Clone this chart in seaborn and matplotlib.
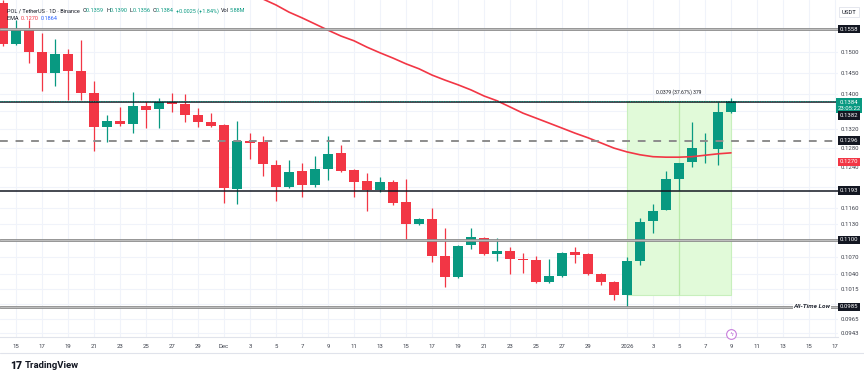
import matplotlib as mpl
import matplotlib.pyplot as plt
import matplotlib.dates as mdates
import numpy as np
import pandas as pd
import seaborn as sns
from matplotlib.lines import Line2D
from matplotlib.transforms import Bbox, TransformedBbox, blended_transform_factory

mpl.use("Agg")
sns.set_theme(style="white")
plt.rcParams["font.family"] = ["Roboto", "DejaVu Sans"]

# daily candles, Nov 14 2025 .. Jan 9 2026
dates = pd.date_range("2025-11-14", "2026-01-09", freq="D")
opens = [0.1626, 0.1520, 0.1558, 0.1500, 0.1449, 0.1495, 0.1454, 0.1402, 0.1325, 0.1339,
         0.1332, 0.1372, 0.1365, 0.1381, 0.1377, 0.1352, 0.1336, 0.1330, 0.1197, 0.1295,
         0.1293, 0.1245, 0.1200, 0.1233, 0.1204, 0.1237, 0.1270, 0.1235, 0.1212, 0.1195,
         0.1210, 0.1171, 0.1129, 0.1139, 0.1071, 0.1035, 0.1091, 0.1104, 0.1075, 0.1080,
         0.1066, 0.1064, 0.1026, 0.1037, 0.1078, 0.1075, 0.1040, 0.1026, 0.1005, 0.1062,
         0.1135, 0.1156, 0.1216, 0.1251, 0.1280, 0.1278, 0.1359]
highs = [0.1634, 0.1581, 0.1581, 0.1548, 0.1533, 0.1507, 0.1530, 0.1430, 0.1352, 0.1370,
         0.1404, 0.1384, 0.1390, 0.1402, 0.1400, 0.1368, 0.1356, 0.1332, 0.1339, 0.1312,
         0.1306, 0.1255, 0.1255, 0.1249, 0.1263, 0.1306, 0.1287, 0.1236, 0.1229, 0.1221,
         0.1214, 0.1216, 0.1141, 0.1160, 0.1122, 0.1091, 0.1122, 0.1105, 0.1104, 0.1087,
         0.1077, 0.1071, 0.1066, 0.1078, 0.1087, 0.1077, 0.1042, 0.1028, 0.1070, 0.1141,
         0.1167, 0.1233, 0.1249, 0.1336, 0.1312, 0.1381, 0.1390]
lows = [0.1515, 0.1517, 0.1473, 0.1407, 0.1418, 0.1386, 0.1386, 0.1274, 0.1293, 0.1328,
        0.1312, 0.1323, 0.1323, 0.1359, 0.1336, 0.1325, 0.1325, 0.1169, 0.1167, 0.1257,
        0.1223, 0.1173, 0.1198, 0.1181, 0.1200, 0.1214, 0.1231, 0.1181, 0.1154, 0.1191,
        0.1165, 0.1100, 0.1128, 0.1061, 0.1018, 0.1033, 0.1084, 0.1073, 0.1062, 0.1040,
        0.1042, 0.1025, 0.1025, 0.1035, 0.1059, 0.1038, 0.1021, 0.0996, 0.0985, 0.1056,
        0.1113, 0.1155, 0.1195, 0.1241, 0.1249, 0.1245, 0.1356]
closes = [0.1520, 0.1558, 0.1500, 0.1449, 0.1495, 0.1454, 0.1402, 0.1325, 0.1339, 0.1332,
          0.1372, 0.1363, 0.1381, 0.1377, 0.1352, 0.1336, 0.1328, 0.1198, 0.1295, 0.1291,
          0.1247, 0.1200, 0.1231, 0.1204, 0.1237, 0.1268, 0.1233, 0.1210, 0.1195, 0.1210,
          0.1169, 0.1129, 0.1139, 0.1071, 0.1035, 0.1089, 0.1105, 0.1075, 0.1080, 0.1066,
          0.1064, 0.1026, 0.1037, 0.1077, 0.1073, 0.1040, 0.1026, 0.1005, 0.1062, 0.1133,
          0.1154, 0.1216, 0.1249, 0.1280, 0.1281, 0.1359, 0.1384]

ema_dates = pd.date_range("2025-12-03", "2026-01-09", freq="D")
ema = [0.1656, 0.1637, 0.1621, 0.1602, 0.1587, 0.1571, 0.1555, 0.1540, 0.1528, 0.1512,
       0.1498, 0.1485, 0.1471, 0.1459, 0.1444, 0.1432, 0.1421, 0.1409, 0.1395, 0.1384,
       0.1370, 0.1356, 0.1345, 0.1334, 0.1323, 0.1312, 0.1302, 0.1291, 0.1280, 0.1272,
       0.1266, 0.1262, 0.1261, 0.1261, 0.1262, 0.1265, 0.1268, 0.1270]

# horizontal levels
gray_levels = [0.1558, 0.1100, 0.0985]
black_levels = [0.1382, 0.1193]
dashed_level = 0.1296
last_price = 0.1384

range_start, range_end = "2026-01-01", "2026-01-09"
range_low, range_high = 0.1005, 0.1384
range_text = "0.0379 (37.67%) 379"

# price scale: gridlines at every tick, labels only where not covered by a tag
y_ticks = [0.1500, 0.1450, 0.1400, 0.1360, 0.1320, 0.1280, 0.1240, 0.1200, 0.1160,
           0.1130, 0.1100, 0.1070, 0.1040, 0.1015, 0.0990, 0.0965, 0.0943]
y_hidden = [0.1360, 0.1200, 0.1100, 0.0990]
x_tick_dates = ["2025-11-15", "2025-11-17", "2025-11-19", "2025-11-21", "2025-11-23",
                "2025-11-25", "2025-11-27", "2025-11-29", "2025-12-01", "2025-12-03",
                "2025-12-05", "2025-12-07", "2025-12-09", "2025-12-11", "2025-12-13",
                "2025-12-15", "2025-12-17", "2025-12-19", "2025-12-21", "2025-12-23",
                "2025-12-25", "2025-12-27", "2025-12-29", "2026-01-01", "2026-01-03",
                "2026-01-05", "2026-01-07", "2026-01-09", "2026-01-11", "2026-01-13",
                "2026-01-15", "2026-01-17"]
x_tick_labels = ["15", "17", "19", "21", "23", "25", "27", "29", "Dec", "3", "5", "7", "9",
                 "11", "13", "15", "17", "19", "21", "23", "25", "27", "29", "2026", "3",
                 "5", "7", "9", "11", "13", "15", "17"]

GREEN = "#089981"
RED = "#f23645"
DARK = "#131722"

W, H = 864, 377
fig = plt.figure(figsize=(W / 100, H / 100), dpi=100)
ax = fig.add_axes([0, 1 - 337 / H, 838 / W, 337 / H])

x = mdates.date2num(dates)
o = np.array(opens)
c = np.array(closes)
cols = [GREEN if cc >= oo else RED for oo, cc in zip(o, c)]

ax.vlines(x, lows, highs, colors=cols, lw=0.9, zorder=2)
bottom = np.minimum(o, c)
height = np.maximum(np.abs(c - o), 0.00008)
ax.bar(x, height, bottom=bottom, width=0.75, color=cols, linewidth=0, zorder=2.5)

ema_df = pd.DataFrame({"x": mdates.date2num(ema_dates), "ema": ema})
sns.lineplot(data=ema_df, x="x", y="ema", color=RED, lw=1.2, ax=ax, zorder=3)

# measured range box
rx0 = mdates.date2num(pd.Timestamp(range_start))
rx1 = mdates.date2num(pd.Timestamp(range_end))
ax.fill_between([rx0, rx1], range_low, range_high, color="#e1fad9", lw=0.8,
                edgecolor="#c8efbd", zorder=1)
ax.vlines((rx0 + rx1) / 2, range_low, range_high, color="#b9eaa9", lw=0.9, zorder=1.2)
ax.annotate(range_text, xy=((rx0 + rx1) / 2, range_high), xytext=(0, 6),
            textcoords="offset points", ha="center", va="center", fontsize=3.6,
            color=DARK, zorder=6)

for lv in gray_levels:
    ax.axhline(lv, color="#8c8c8c", lw=2.0, zorder=3.2)
    ax.axhline(lv, color="#c8c8c8", lw=0.6, zorder=3.3)
for lv in black_levels:
    ax.axhline(lv, color=DARK, lw=1.1, zorder=3.2)
ax.axhline(dashed_level, color="#8c8c8c", lw=1.4, dashes=(4, 4), zorder=3.2)
ax.axhline(last_price, color=GREEN, lw=0.7, ls=(0, (1, 1.5)), zorder=3.4)

ax.set_yscale("log")
ax.set_ylim(0.09372, 0.16344)
x0 = mdates.date2num(pd.Timestamp("2025-11-15"))
ax.set_xlim(x0 - 1.23, x0 + 63.23)
ax.set_xlabel("")
ax.set_ylabel("")

ax.yaxis.tick_right()
ax.yaxis.set_minor_locator(mpl.ticker.NullLocator())
ax.set_yticks(y_ticks, labels=["" if t in y_hidden else f"{t:.4f}" for t in y_ticks])
ax.set_xticks(mdates.date2num(pd.to_datetime(x_tick_dates)), labels=x_tick_labels)
ax.tick_params(axis="y", length=0, pad=2, labelsize=4.3, labelcolor="#3b3f4a")
ax.tick_params(axis="x", length=0, pad=5, labelsize=4.3, labelcolor="#3b3f4a")
ax.grid(True, color="#f0f3fa", lw=0.8, zorder=0)
for s in ["top", "left", "right"]:
    ax.spines[s].set_visible(False)
ax.spines["bottom"].set_color("#e0e3eb")
ax.spines["bottom"].set_linewidth(0.8)

clip = TransformedBbox(Bbox([[0, 0], [838 / W, 1]]), fig.transFigure)
last_lbl = ax.get_xticklabels()[-1]
last_lbl.set_clip_on(True)
last_lbl.set_clip_box(clip)

# price tags on the scale
ytr = ax.get_yaxis_transform()
tag_x = 849 / 838


def price_tag(val, text, fc, dy=0.0):
    ax.annotate(text, xy=(tag_x, val), xycoords=ytr, xytext=(0, dy),
                textcoords="offset points", ha="center", va="center",
                fontsize=4.3, color="white", linespacing=1.3,
                bbox=dict(boxstyle="square,pad=0.3", fc=fc, ec="none"),
                annotation_clip=False, zorder=10)


price_tag(0.1558, "0.1558", DARK)
price_tag(0.1384, "0.1384\n23:05:22", GREEN, dy=-3.5)
price_tag(0.1382, "0.1382", DARK, dy=-10)
price_tag(0.1296, "0.1296", DARK)
price_tag(0.1270, "0.1270", RED, dy=-6.5)
price_tag(0.1193, "0.1193", DARK)
price_tag(0.1100, "0.1100", DARK)
price_tag(0.0985, "0.0985", DARK)

ax.text(812 / 838, 0.0985, "All-Time Low", transform=ytr, ha="center", va="center",
        fontsize=4.6, fontweight="bold", style="italic", color="#2a2e39",
        bbox=dict(boxstyle="square,pad=0.15", fc="white", ec="none"), zorder=6)

# lightning marker on the time scale
btr = blended_transform_factory(ax.transData, ax.transAxes)
ax.plot([rx1], [0.008], transform=btr, marker="o", ms=7, mfc="white", mec="#c77ddb",
        mew=0.8, clip_on=False, zorder=8)
ax.text(rx1, 0.008, "ϟ", transform=btr, ha="center", va="center", fontsize=4.5,
        color="#b15bd0", zorder=9, clip_on=False)

fig.text(849 / W, 1 - 12 / H, "USDT", fontsize=4.3, ha="center", va="center", color=DARK,
         bbox=dict(boxstyle="square,pad=0.5", fc="white", ec="#e0e3eb", lw=0.6))


def chain(parts, x_px, y_px):
    t = fig.text(x_px / W, 1 - y_px / H, parts[0][0], color=parts[0][1], fontsize=4,
                 va="center", ha="left")
    for s, col in parts[1:]:
        t = ax.annotate(s, xy=(1, 0.5), xycoords=t, xytext=(0, 0),
                        textcoords="offset points", va="center", ha="left",
                        fontsize=4, color=col, annotation_clip=False)


chain([("POL / TetherUS · 1D · Binance  ", DARK), ("O", DARK), ("0.1359  ", GREEN),
       ("H", DARK), ("0.1390  ", GREEN), ("L", DARK), ("0.1356  ", GREEN),
       ("C", DARK), ("0.1384  ", GREEN), ("+0.0025 (+1.84%)  ", GREEN),
       ("Vol", DARK), ("5.88M", GREEN)], 7, 11)
chain([("EMA  ", DARK), ("0.1270  ", RED), ("0.1864", "#2962ff")], 7, 19)

fig.add_artist(Line2D([0, 1], [1 - 353 / H] * 2, color="#e0e3eb", lw=0.8,
                      transform=fig.transFigure))
fig.text(10 / W, 1 - 366 / H, "17", fontsize=7.5, fontweight="black", color=DARK,
         va="center", ha="left")
fig.text(25 / W, 1 - 366 / H, "TradingView", fontsize=6.8, fontweight="bold", color=DARK,
         va="center", ha="left")

fig.savefig("out.png", dpi=100, facecolor="white")
